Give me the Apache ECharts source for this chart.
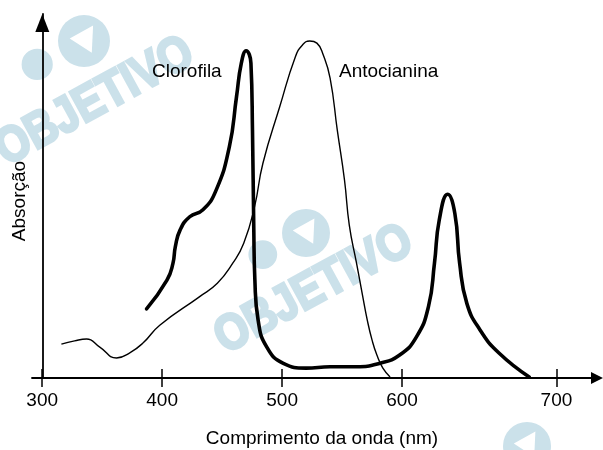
<!DOCTYPE html>
<html>
<head>
<meta charset="utf-8">
<script src="https://cdn.jsdelivr.net/npm/echarts@6/dist/echarts.min.js"></script>
<style>html,body{margin:0;padding:0;background:#fff}#c{width:603px;height:450px}</style>
</head>
<body>
<div id="c"></div>
<script>
// Wavelength (nm) and absorption (arbitrary units)
const chlX = [387, 404, 409, 411, 415, 423, 434, 445, 456, 462, 466, 470, 474, 475.3, 476.4, 477.3, 480, 487, 501, 520, 540, 562, 581, 598, 612, 622, 627, 631, 638, 644, 648, 654, 665, 681, 706];
const chlY = [19.0, 26.9, 31.5, 36.1, 40.7, 44.3, 46.2, 51.6, 63.5, 77.3, 86.5, 89.9, 86.5, 68.1, 40.7, 26.9, 15.9, 8.6, 4.0, 2.7, 3.1, 3.1, 4.0, 6.3, 11.3, 19.6, 31.5, 43.4, 50.5, 45.2, 31.5, 20.5, 13.2, 6.8, 0.3];
const antX = [316, 327, 337, 348, 362, 373, 384, 398, 431, 446, 459, 468, 477, 484, 498, 511, 517, 523, 529, 534, 540, 546, 552, 556, 562, 567, 571, 575, 579, 584, 590];
const antY = [9.3, 10.2, 10.7, 8.5, 5.5, 6.9, 9.6, 14.5, 22.3, 26.0, 31.6, 37.0, 47.0, 59.0, 74.5, 88.2, 91.5, 92.6, 92.0, 89.0, 82.4, 68.1, 54.4, 42.0, 31.6, 22.8, 15.9, 10.4, 6.3, 2.7, 0.3];
// Tick positions as drawn in the figure (the "700" tick sits farther right than a linear scale)
const tickValues = [300, 400, 500, 600, 728.7];
const tickLabels = ['300', '400', '500', '600', '700'];
const seriesNames = ['Clorofila', 'Antocianina'];
const xTitle = 'Comprimento da onda (nm)';
const yTitle = 'Absorção';

const FONT = 'Arial, "Liberation Sans", Helvetica, sans-serif';
const WM = '#cbe1ea';
const chart = echarts.init(document.getElementById('c'), null, {renderer: 'canvas'});

function wmText(x, y, rot) {
  return {type: 'text', x: x, y: y, rotation: rot, scaleX: 0.86, z: 0, silent: true,
    style: {text: 'OBJETIVO', fill: WM, stroke: WM, lineWidth: 3, font: 'bold 50px ' + FONT, textAlign: 'center', textVerticalAlign: 'middle'}};
}
function wmLogo(cx, cy, r) {
  return [
    {type: 'circle', z: 0, silent: true, shape: {cx: cx, cy: cy, r: r}, style: {fill: WM}},
    {type: 'polygon', z: 0, silent: true, shape: {points: [[cx - r * 0.55, cy - r * 0.1], [cx + r * 0.35, cy - r * 0.6], [cx + r * 0.3, cy + r * 0.45]]}, style: {fill: '#fff'}},
    {type: 'circle', z: 0, silent: true, shape: {cx: cx - r * 1.8, cy: cy + r * 0.9, r: r * 0.6}, style: {fill: WM}}
  ];
}

const option = {
  backgroundColor: '#fff',
  animation: false,
  grid: {left: 32, right: 6, top: 14, bottom: 72, outerBoundsMode: 'none', containLabel: false},
  xAxis: [{
    type: 'value', min: 291.5, max: 762.5, position: 'bottom',
    name: xTitle, nameLocation: 'middle', nameGap: 51,
    nameTextStyle: {fontSize: 19, color: '#000', fontFamily: FONT, padding: [0, 0, 0, 15]},
    axisLine: {show: true, onZero: false, symbol: ['none', 'triangle'], symbolSize: [12, 12], lineStyle: {color: '#000', width: 1.8}},
    axisTick: {show: true, inside: false, length: 9, customValues: tickValues, lineStyle: {color: '#000', width: 1.5}},
    axisLabel: {show: true, customValues: tickValues, margin: 13, fontSize: 19, color: '#000', fontFamily: FONT,
      formatter: function (v) { const i = tickValues.indexOf(v); return i >= 0 ? tickLabels[i] : ''; }},
    splitLine: {show: false}
  }, {
    type: 'value', min: 291.5, max: 762.5, position: 'bottom', offset: 0,
    axisLine: {show: false, onZero: false},
    axisTick: {show: true, inside: true, length: 9, customValues: tickValues, lineStyle: {color: '#000', width: 1.5}},
    axisLabel: {show: false},
    splitLine: {show: false}
  }],
  yAxis: {
    type: 'value', min: 0, max: 100, position: 'left', offset: -10.3,
    name: yTitle, nameLocation: 'middle', nameGap: 13, nameRotate: 90,
    nameTextStyle: {fontSize: 19, color: '#000', fontFamily: FONT, padding: [0, 10, 0, 0]},
    axisLine: {show: true, onZero: false, symbol: ['none', 'triangle'], symbolSize: [14, 18], symbolOffset: [0, -9], lineStyle: {color: '#000', width: 1.8}},
    axisTick: {show: false}, axisLabel: {show: false}, splitLine: {show: false}
  },
  graphic: [
    wmText(95, 102, 0.5),
    ...wmLogo(84, 41, 26),
    wmText(314, 290, 0.5),
    ...wmLogo(306, 233, 24),
    ...wmLogo(527, 446, 24),
    {type: 'text', x: 152, y: 62, z: 10, style: {text: seriesNames[0], fill: '#000', font: '19px ' + FONT, textVerticalAlign: 'top'}},
    {type: 'text', x: 339, y: 62, z: 10, style: {text: seriesNames[1], fill: '#000', font: '19px ' + FONT, textVerticalAlign: 'top'}}
  ],
  series: [{
    name: seriesNames[0], type: 'line', xAxisIndex: 0, showSymbol: false, smooth: 0.5, z: 5,
    lineStyle: {color: '#000', width: 3.6, cap: 'round', join: 'round'},
    data: chlX.map((x, i) => [x, chlY[i]])
  }, {
    name: seriesNames[1], type: 'line', xAxisIndex: 0, showSymbol: false, smooth: 0.5, z: 5,
    lineStyle: {color: '#000', width: 1.4, join: 'round'},
    data: antX.map((x, i) => [x, antY[i]])
  }]
};
chart.setOption(option);
</script>
</body>
</html>
